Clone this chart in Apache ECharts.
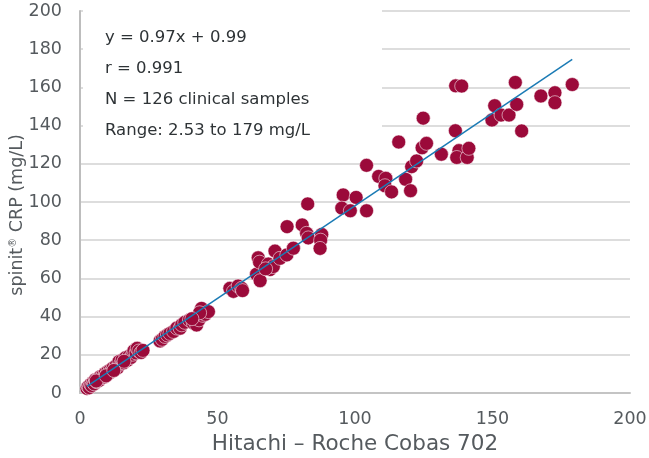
<!DOCTYPE html>
<html>
<head>
<meta charset="utf-8">
<script src="https://cdn.jsdelivr.net/npm/echarts@6/dist/echarts.min.js"></script>
<style>html,body{margin:0;padding:0;background:#fff}#c{width:649px;height:458px}</style>
</head>
<body>
<div id="c"></div>
<script>
// Hitachi – Roche Cobas 702 values (x) and spinit CRP values (y), mg/L
const sampleX = [
  2.53, 3.0, 3.4, 3.9, 4.3, 4.8, 5.2, 5.6, 6.1, 6.5, 7.0, 7.4, 7.9, 8.3, 8.8, 9.2, 9.7, 10.1, 10.6, 11.0,
  11.5, 12.0, 12.6, 13.1, 13.7, 14.2, 14.8, 15.3, 15.9, 16.5, 17.2, 17.8, 18.5, 19.2, 19.6, 20.4, 20.8, 21.4, 22.2, 22.9,
  5.9, 9.5, 12.3, 16.0,
  29.1, 29.9, 30.9, 31.8, 32.7, 34.0, 35.2, 36.4, 37.0, 38.1, 39.8, 41.2, 42.4, 43.3, 44.2, 44.8, 45.6, 46.7, 43.5, 40.7,
  54.5, 55.8, 57.5, 58.8, 59.1, 64.2, 65.5, 64.8, 65.3, 68.5, 69.1, 70.3, 67.5, 70.9, 72.7, 75.2, 77.6, 75.3, 80.8, 82.4,
  83.0, 82.8, 87.9, 87.5, 87.3, 95.7, 100.4, 95.2, 98.3, 104.2, 104.2, 108.6, 111.2, 110.9, 113.3, 118.4, 120.2, 115.9, 120.6, 122.4,
  124.4, 126.0, 124.8, 131.4, 136.5, 136.6, 138.8, 137.8, 137.0, 140.8, 141.4, 150.8, 149.8, 153.1, 156.0, 158.8, 158.3, 160.6, 167.6, 172.7,
  172.7, 179.0
];
const sampleY = [
  2.4, 3.3, 2.8, 4.5, 3.9, 5.6, 4.8, 6.9, 5.9, 7.4, 6.6, 8.5, 7.9, 9.1, 8.4, 10.4, 9.6, 11.2, 10.3, 12.0,
  11.4, 13.1, 12.2, 14.3, 13.2, 16.5, 15.1, 17.2, 15.8, 18.4, 17.1, 19.2, 18.6, 20.3, 22.1, 21.0, 23.4, 22.0, 21.2, 22.3,
  6.3, 9.0, 11.8, 16.6,
  27.2, 28.1, 29.6, 30.4, 31.2, 32.2, 34.0, 33.9, 35.7, 37.0, 38.2, 36.6, 35.6, 38.3, 44.3, 40.6, 41.2, 42.6, 42.0, 38.9,
  54.8, 53.2, 56.0, 54.8, 53.6, 62.2, 58.8, 70.8, 68.5, 67.5, 64.6, 66.2, 65.0, 74.3, 70.5, 72.3, 75.8, 87.1, 88.0, 83.6,
  81.2, 99.0, 83.0, 80.0, 75.7, 103.7, 102.4, 96.8, 95.4, 95.4, 119.2, 113.4, 112.4, 108.5, 105.3, 111.9, 105.9, 131.4, 118.5, 121.5,
  128.4, 130.7, 143.9, 125.0, 137.3, 160.8, 160.7, 126.9, 123.3, 123.3, 128.1, 150.4, 142.9, 145.5, 145.5, 151.1, 162.6, 137.2, 155.5, 157.2,
  152.0, 161.5
];
// Regression line as stated: y = 0.97x + 0.99, over the sample range
const slope = 0.97, intercept = 0.99;
const fitX = [2.53, 179];
const xTicks = [0, 50, 100, 150, 200];
const yTicks = [0, 20, 40, 60, 80, 100, 120, 140, 160, 180, 200];
const infoLines = ['y = 0.97x + 0.99', 'r = 0.991', 'N = 126 clinical samples', 'Range: 2.53 to 179 mg/L'];

const points = sampleX.map((x, i) => [x, sampleY[i]]);
const fitData = fitX.map(x => [x, slope * x + intercept]);

const FONT = '"DejaVu Sans", "Open Sans", sans-serif';
const TXT = '#555a5e';

const chart = echarts.init(document.getElementById('c'), null, {renderer: 'canvas'});
chart.setOption({
  animation: false,
  backgroundColor: '#fff',
  textStyle: {fontFamily: FONT},
  grid: {left: 80, right: 19, top: 11, bottom: 65, containLabel: false, outerBoundsMode: 'none'},
  xAxis: {
    type: 'value', min: xTicks[0], max: xTicks[xTicks.length - 1], interval: 50,
    name: 'Hitachi – Roche Cobas 702', nameLocation: 'middle', nameGap: 40, nameMoveOverlap: false,
    nameTextStyle: {fontSize: 21.5, color: TXT, fontFamily: FONT},
    axisLine: {show: true, lineStyle: {color: '#c4c4c4', width: 2}},
    axisTick: {show: false},
    splitLine: {show: false},
    axisLabel: {fontSize: 17.5, color: TXT, margin: 17, fontFamily: FONT}
  },
  yAxis: {
    type: 'value', min: yTicks[0], max: yTicks[yTicks.length - 1], interval: 20,
    name: 'spinit{s|®} CRP (mg/L)', nameLocation: 'middle', nameGap: 53, nameMoveOverlap: false,
    nameTextStyle: {fontSize: 17.5, color: TXT, fontFamily: FONT, padding: [0, 26, 0, 0],
      rich: {s: {fontSize: 10, color: TXT, fontFamily: FONT, verticalAlign: 'top', padding: [0, 0, 9, 0]}}},
    axisLine: {show: true, lineStyle: {color: '#bdbdbd', width: 2}},
    axisTick: {show: false},
    splitLine: {show: true, lineStyle: {color: '#d2d2d2', width: 1.5}},
    axisLabel: {fontSize: 17.5, color: TXT, margin: 18, fontFamily: FONT}
  },
  graphic: [
    {type: 'rect', shape: {x: 83, y: 0, width: 299, height: 146}, style: {fill: '#fff'}, z: 5, silent: true},
    ...infoLines.map((t, i) => ({
      type: 'text', x: 105, y: 38 + i * 31, z: 6, silent: true,
      style: {text: t, fontSize: 16.5, fill: '#2e3336', fontFamily: FONT, verticalAlign: 'middle'}
    }))
  ],
  series: [
    {
      type: 'scatter', data: points, symbolSize: 14, z: 2,
      itemStyle: {color: '#9b0a3a', borderColor: 'rgba(255,255,255,0.55)', borderWidth: 1, opacity: 1}
    },
    {
      type: 'line', data: fitData, symbol: 'none', z: 3,
      lineStyle: {color: '#1b7bb5', width: 1.5}
    }
  ]
});
</script>
</body>
</html>
